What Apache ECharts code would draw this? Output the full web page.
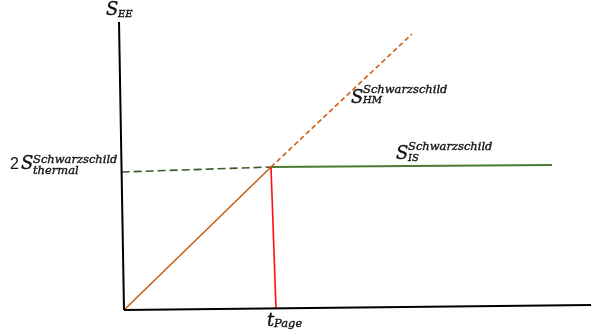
<!DOCTYPE html>
<html>
<head>
<meta charset="utf-8">
<script src="https://cdn.jsdelivr.net/npm/echarts@6/dist/echarts.min.js"></script>
<style>
html,body{margin:0;padding:0;background:#fff;}
#chart{width:591px;height:335px;}
</style>
</head>
<body>
<div id="chart"></div>
<script>
// Diagram units: t measured in units of t_Page, S in units of 2 S_thermal.
const yAxisLine   = [[-0.034, 2.014], [0, 0]];
const xAxisLine   = [[0, 0], [3.177, 0.035]];
const hmSolid     = [[0, 0], [1, 1]];
const hmDashed    = [[1, 1], [1.959, 1.930]];
const thermalDash = [[-0.016, 0.965], [1, 1]];
const isSolid     = [[1, 1], [2.912, 1.014]];
const pageDrop    = [[1, 1], [1.034, 0.007]];

const chart = echarts.init(document.getElementById('chart'));
const serif = 'DejaVu Serif';

function seg(data, color, width, type) {
  return {
    type: 'line', data: data, symbol: 'none', silent: true, animation: false,
    lineStyle: {color: color, width: width, type: type || 'solid', cap: 'butt'}
  };
}
function txt(x, y, s, size) {
  return {type: 'text', x: x, y: y, style: {
    text: s, font: 'italic ' + size + 'px "' + serif + '"',
    fill: '#111', stroke: '#111', lineWidth: 0.35
  }};
}
function plain(x, y, s, size) {
  return {type: 'text', x: x, y: y, style: {text: s, font: size + 'px "Liberation Sans"', fill: '#111'}};
}

chart.setOption({
  animation: false,
  grid: {left: 0, right: 0, top: 0, bottom: 0},
  xAxis: {type: 'value', min: -124 / 147, max: 467 / 147, show: false},
  yAxis: {type: 'value', min: -25 / 143, max: 310 / 143, show: false},
  series: [
    seg(thermalDash, '#3b5a2a', 1.6, [8, 4]),
    seg(isSolid, '#4f7a36', 2),
    seg(hmSolid, '#c55a11', 1.5),
    seg(hmDashed, '#d0651c', 1.7, [5, 3]),
    seg(pageDrop, '#ff1010', 1.6),
    seg(yAxisLine, '#000', 2),
    seg(xAxisLine, '#000', 2)
  ],
  graphic: [
    // S_EE
    txt(106, 1, 'S', 18),
    txt(118, 9, 'EE', 10),
    // 2 S_thermal
    plain(10, 157, '2', 16),
    txt(21, 155, 'S', 18),
    txt(33, 154, 'Schwarzschild', 11.5),
    txt(33, 165, 'thermal', 11.5),
    // S_HM
    txt(351, 89, 'S', 18),
    txt(363, 84, 'Schwarzschild', 11.5),
    txt(363, 95, 'HM', 10),
    // S_IS
    txt(396, 145, 'S', 18),
    txt(408, 141, 'Schwarzschild', 11.5),
    txt(408, 153, 'IS', 10),
    // t_Page
    txt(267, 312, 't', 18),
    txt(274, 318, 'Page', 11.5)
  ]
});
</script>
</body>
</html>
